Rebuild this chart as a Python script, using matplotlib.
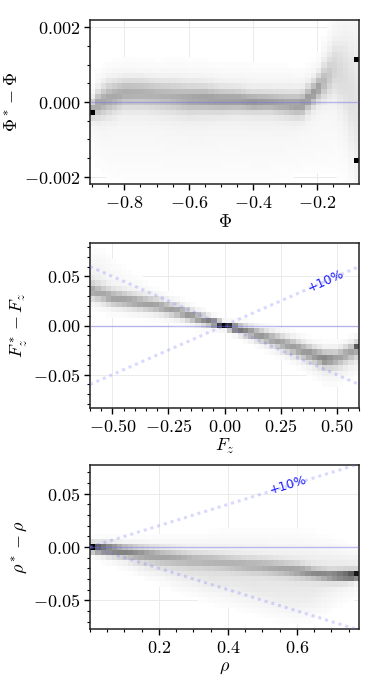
import numpy as np
import matplotlib
matplotlib.use("Agg")
import matplotlib.pyplot as plt
from matplotlib.ticker import MultipleLocator, FormatStrFormatter

plt.rcParams['mathtext.fontset'] = 'cm'
plt.rcParams['font.family'] = ['DejaVu Serif']

# ---------------- Panel 1: Phi (y values in units of 1e-3) ----------------
phi_x = [-0.905, -0.88, -0.85, -0.8, -0.75, -0.7, -0.65, -0.6, -0.55, -0.5,
         -0.45, -0.4, -0.35, -0.3, -0.25, -0.2, -0.17, -0.14, -0.11, -0.08]
phi_core_c = [-0.25, -0.05, 0.1, 0.25, 0.25, 0.2, 0.15, 0.1, 0.1, 0.05,
              0.05, 0.0, 0.0, -0.05, -0.1, 0.35, 0.6, 0.9, 0.6, 0.0]
phi_core_s = [0.15, 0.25, 0.28, 0.25, 0.25, 0.25, 0.26, 0.26, 0.24, 0.22,
              0.2, 0.18, 0.18, 0.2, 0.22, 0.22, 0.35, 0.5, 0.8, 1.2]
phi_core_a = [0.3, 0.28, 0.27, 0.27, 0.26, 0.25, 0.25, 0.28, 0.3, 0.3,
              0.3, 0.32, 0.3, 0.28, 0.3, 0.32, 0.2, 0.12, 0.08, 0.06]
phi_env_c = [-0.2, 0.0, 0.1, 0.15, 0.15, 0.1, 0.1, 0.05, 0.05, 0.05,
             0.05, 0.0, 0.0, 0.0, 0.0, 0.3, 0.8, 1.1, 0.8, 0.0]
phi_env_s = [0.3, 0.45, 0.5, 0.5, 0.5, 0.5, 0.55, 0.55, 0.55, 0.5,
             0.5, 0.5, 0.5, 0.5, 0.45, 0.45, 0.6, 0.8, 1.1, 1.5]
phi_env_a = [0.12, 0.15, 0.16, 0.16, 0.16, 0.16, 0.16, 0.16, 0.16, 0.16,
             0.16, 0.16, 0.16, 0.16, 0.16, 0.16, 0.14, 0.12, 0.09, 0.08]
phi_haze_c = [-0.8, -1.0, -1.1, -1.2, -1.2, -1.2, -1.2, -1.2, -1.2, -1.2,
              -1.2, -1.2, -1.2, -1.1, -1.0, -0.9, -0.8, -0.5, 0.0, 0.0]
phi_haze_s = [0.5, 0.6, 0.7, 0.7, 0.7, 0.7, 0.7, 0.7, 0.7, 0.7,
              0.7, 0.7, 0.7, 0.7, 0.7, 0.7, 0.8, 1.0, 1.5, 2.0]
phi_haze_a = [0.04, 0.05, 0.05, 0.05, 0.05, 0.05, 0.05, 0.05, 0.05, 0.05,
              0.05, 0.05, 0.05, 0.05, 0.05, 0.05, 0.05, 0.05, 0.06, 0.06]
phi_spots_x = [-0.9, -0.075, -0.075]
phi_spots_y = [-0.3, 1.2, -1.5]
phi_spots_v = [1.0, 1.0, 1.0]

# ---------------- Panel 2: Fz ----------------
fz_x = [-0.6, -0.55, -0.5, -0.4, -0.3, -0.2, -0.1, -0.05, 0.0, 0.05,
        0.1, 0.2, 0.3, 0.4, 0.45, 0.5, 0.55, 0.6]
fz_core_c = [0.036, 0.032, 0.028, 0.024, 0.020, 0.014, 0.006, 0.003, 0.0, -0.003,
             -0.006, -0.013, -0.021, -0.030, -0.034, -0.033, -0.028, -0.022]
fz_core_s = [0.006, 0.006, 0.006, 0.0055, 0.005, 0.0045, 0.004, 0.003, 0.0018, 0.003,
             0.004, 0.005, 0.006, 0.006, 0.006, 0.006, 0.006, 0.006]
fz_core_a = [0.3, 0.28, 0.3, 0.3, 0.3, 0.3, 0.34, 0.5, 1.0, 0.55,
             0.36, 0.3, 0.3, 0.34, 0.4, 0.3, 0.3, 0.32]
fz_env_c = [0.038, 0.034, 0.03, 0.025, 0.02, 0.014, 0.006, 0.003, 0.0, -0.003,
            -0.006, -0.014, -0.022, -0.032, -0.036, -0.036, -0.032, -0.027]
fz_env_s = [0.011, 0.011, 0.01, 0.009, 0.008, 0.007, 0.006, 0.005, 0.004, 0.005,
            0.006, 0.007, 0.008, 0.009, 0.01, 0.01, 0.01, 0.01]
fz_env_a = [0.16, 0.16, 0.16, 0.16, 0.16, 0.16, 0.16, 0.16, 0.2, 0.16,
            0.16, 0.16, 0.16, 0.16, 0.16, 0.16, 0.16, 0.16]
fz_haze_c = [0.06, 0.06, 0.055, 0.045, 0.03, 0.02, 0.01, 0.005, 0.0, -0.005,
             -0.01, -0.02, -0.03, -0.045, -0.05, -0.05, -0.045, -0.04]
fz_haze_s = [0.012, 0.012, 0.01, 0.008, 0.006, 0.006, 0.005, 0.004, 0.003, 0.004,
             0.005, 0.006, 0.006, 0.008, 0.009, 0.009, 0.008, 0.008]
fz_haze_a = [0.07, 0.07, 0.05, 0.03, 0.02, 0.02, 0.02, 0.02, 0.02, 0.02,
             0.02, 0.02, 0.03, 0.04, 0.05, 0.05, 0.04, 0.03]
fz_spots_x = [0.595]
fz_spots_y = [-0.02]
fz_spots_v = [0.72]

# ---------------- Panel 3: rho ----------------
rho_x = [0.0, 0.02, 0.05, 0.1, 0.15, 0.2, 0.25, 0.3, 0.35, 0.4,
         0.45, 0.5, 0.55, 0.6, 0.65, 0.7, 0.75, 0.78]
rho_core_c = [0.0, -0.001, -0.002, -0.004, -0.006, -0.008, -0.010, -0.012, -0.013, -0.015,
              -0.017, -0.018, -0.020, -0.022, -0.025, -0.027, -0.027, -0.026]
rho_core_s = [0.002, 0.003, 0.004, 0.004, 0.0045, 0.005, 0.005, 0.005, 0.005, 0.005,
              0.005, 0.005, 0.005, 0.005, 0.004, 0.004, 0.004, 0.003]
rho_core_a = [1.0, 0.5, 0.38, 0.35, 0.3, 0.26, 0.24, 0.22, 0.22, 0.22,
              0.24, 0.25, 0.27, 0.3, 0.36, 0.42, 0.6, 0.85]
rho_env_c = [0.0, -0.001, -0.002, -0.005, -0.008, -0.01, -0.012, -0.014, -0.016, -0.017,
             -0.019, -0.021, -0.023, -0.025, -0.025, -0.022, -0.02, -0.018]
rho_env_s = [0.004, 0.005, 0.006, 0.007, 0.009, 0.01, 0.012, 0.013, 0.015, 0.016,
             0.017, 0.018, 0.019, 0.02, 0.019, 0.016, 0.012, 0.01]
rho_env_a = [0.3, 0.22, 0.2, 0.19, 0.18, 0.18, 0.18, 0.18, 0.18, 0.18,
             0.18, 0.18, 0.18, 0.18, 0.18, 0.16, 0.15, 0.14]
rho_haze_c = [0.0, -0.003, -0.006, -0.01, -0.015, -0.02, -0.025, -0.03, -0.034, -0.038,
              -0.042, -0.046, -0.05, -0.053, -0.05, -0.045, -0.04, -0.035]
rho_haze_s = [0.005, 0.006, 0.006, 0.007, 0.008, 0.009, 0.01, 0.01, 0.011, 0.011,
              0.011, 0.011, 0.011, 0.011, 0.011, 0.01, 0.01, 0.01]
rho_haze_a = [0.05, 0.05, 0.05, 0.05, 0.06, 0.06, 0.07, 0.07, 0.07, 0.07,
              0.07, 0.07, 0.07, 0.06, 0.05, 0.04, 0.03, 0.03]
rho_spots_x = [0.002, 0.775]
rho_spots_y = [0.0, -0.026]
rho_spots_v = [1.0, 0.92]


def density(xlim, ylim, nx, ny, kx, comps, sx, sy, sv, yscale=1.0):
    xe = np.linspace(xlim[0], xlim[1], nx + 1)
    ye = np.linspace(ylim[0], ylim[1], ny + 1)
    xc = 0.5 * (xe[1:] + xe[:-1])
    yc = 0.5 * (ye[1:] + ye[:-1])
    Y = yc[:, None]
    Z = np.zeros((ny, nx))
    for cc, cs, ca in comps:
        c = np.interp(xc, kx, cc) * yscale
        s = np.interp(xc, kx, cs) * yscale
        a = np.interp(xc, kx, ca)
        Z += a[None, :] * np.exp(-0.5 * ((Y - c[None, :]) / s[None, :]) ** 2)
    for x, y, v in zip(sx, sy, sv):
        i = np.clip(np.searchsorted(xe, x) - 1, 0, nx - 1)
        j = np.clip(np.searchsorted(ye, y * yscale) - 1, 0, ny - 1)
        Z[j, i] = v
    Z = np.minimum(Z, 1.0)
    Z = np.ma.masked_less(Z, 0.02)
    return xe, ye, Z


fig = plt.figure(figsize=(3.74, 6.85), dpi=100)
W = 269 / 374
L = 90 / 374
axes_pos = [
    [L, 1 - 184 / 685, W, 164 / 685],
    [L, 1 - 408 / 685, W, 165 / 685],
    [L, 1 - 629 / 685, W, 164 / 685],
]

panels = [
    dict(xlim=(-0.907, -0.07), ylim=(-0.0022, 0.0022), nx=50, ny=31,
         kx=phi_x,
         comps=[(phi_core_c, phi_core_s, phi_core_a), (phi_env_c, phi_env_s, phi_env_a),
                (phi_haze_c, phi_haze_s, phi_haze_a)],
         spots=(phi_spots_x, phi_spots_y, phi_spots_v), yscale=1e-3,
         xmaj=0.2, xmin=0.05, ymaj=0.002, ymin=0.0005, xfmt='$%.1f$', yfmt='$%.3f$',
         xlabel=r'$\Phi$', ylabel=r'$\Phi^* - \Phi$', pct=False, xticks=None),
    dict(xlim=(-0.6, 0.6), ylim=(-0.084, 0.084), nx=51, ny=31,
         kx=fz_x,
         comps=[(fz_core_c, fz_core_s, fz_core_a), (fz_env_c, fz_env_s, fz_env_a),
                (fz_haze_c, fz_haze_s, fz_haze_a)],
         spots=(fz_spots_x, fz_spots_y, fz_spots_v), yscale=1.0,
         xmaj=0.25, xmin=0.05, ymaj=0.05, ymin=0.01, xfmt='$%.2f$', yfmt='$%.2f$',
         xlabel=r'$F_z$', ylabel=r'$F_z^* - F_z$', pct=True, pct_xy=(0.45, 0.045), pct_rot=24,
         xticks=None),
    dict(xlim=(0.0, 0.78), ylim=(-0.077, 0.077), nx=50, ny=31,
         kx=rho_x,
         comps=[(rho_core_c, rho_core_s, rho_core_a), (rho_env_c, rho_env_s, rho_env_a),
                (rho_haze_c, rho_haze_s, rho_haze_a)],
         spots=(rho_spots_x, rho_spots_y, rho_spots_v), yscale=1.0,
         xmaj=0.2, xmin=0.05, ymaj=0.05, ymin=0.01, xfmt='$%.1f$', yfmt='$%.2f$',
         xlabel=r'$\rho$', ylabel=r'$\rho^* - \rho$', pct=True, pct_xy=(0.575, 0.0585), pct_rot=17,
         xticks=[0.2, 0.4, 0.6]),
]

for pos, p in zip(axes_pos, panels):
    ax = fig.add_axes(pos)
    xe, ye, Z = density(p['xlim'], p['ylim'], p['nx'], p['ny'], p['kx'], p['comps'],
                        *p['spots'], yscale=p['yscale'])
    ax.grid(True, color='#e8e8e8', lw=0.6, zorder=0)
    ax.set_axisbelow(True)
    ax.pcolormesh(xe, ye, Z, cmap='Greys', vmin=0, vmax=1, zorder=1)
    ax.axhline(0, color='#7070e0', alpha=0.45, lw=1.0, zorder=3)
    if p['pct']:
        xs = np.array(p['xlim'])
        ax.plot(xs, 0.1 * xs, color='#7777ff', alpha=0.28, lw=2.2,
                linestyle=(0, (1, 1.3)), zorder=3)
        ax.plot(xs, -0.1 * xs, color='#7777ff', alpha=0.28, lw=2.2,
                linestyle=(0, (1, 1.3)), zorder=3)
        ax.text(p['pct_xy'][0], p['pct_xy'][1], '+10%', color='#1a1aff', fontsize=9,
                family='DejaVu Sans', rotation=p['pct_rot'], ha='center', va='center',
                rotation_mode='anchor', zorder=4)
    ax.set_xlim(p['xlim'])
    ax.set_ylim(p['ylim'])
    if p['xticks'] is not None:
        ax.set_xticks(p['xticks'])
    else:
        ax.xaxis.set_major_locator(MultipleLocator(p['xmaj']))
    ax.xaxis.set_minor_locator(MultipleLocator(p['xmin']))
    ax.yaxis.set_major_locator(MultipleLocator(p['ymaj']))
    ax.yaxis.set_minor_locator(MultipleLocator(p['ymin']))
    ax.xaxis.set_major_formatter(FormatStrFormatter(p['xfmt']))
    ax.yaxis.set_major_formatter(FormatStrFormatter(p['yfmt']))
    ax.tick_params(which='major', direction='out', length=4, width=1, labelsize=13, pad=3)
    ax.tick_params(which='minor', direction='out', length=2.5, width=0.8)
    for s in ax.spines.values():
        s.set_linewidth(1.1)
        s.set_color('#222222')
    ax.set_xlabel(p['xlabel'], fontsize=13, labelpad=1)
    ax.set_ylabel(p['ylabel'], fontsize=13, labelpad=2)

fig.savefig('out.png', dpi=100)
